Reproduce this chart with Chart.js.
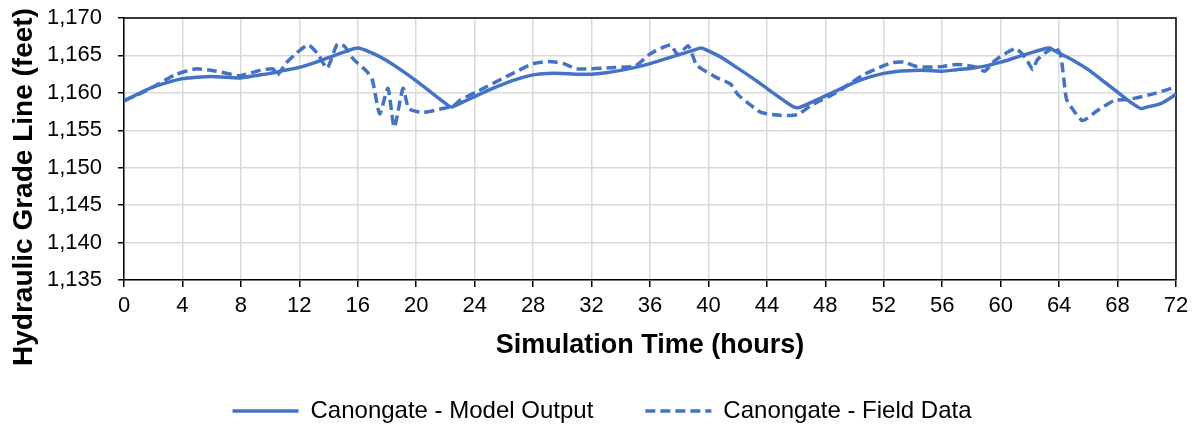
<!DOCTYPE html>
<html>
<head>
<meta charset="utf-8">
<title>Canongate HGL</title>
<script src="https://cdn.jsdelivr.net/npm/chart.js@4.4.1/dist/chart.umd.min.js"></script>
<style>
  html, body { margin: 0; padding: 0; background: #ffffff; }
  #wrap { width: 1198px; height: 428px; position: relative; }
</style>
</head>
<body>
<div id="wrap"><canvas id="hgl" width="1198" height="428"></canvas></div>
<script>
// Simulation hours and hydraulic grade line (feet) – model output
const modelHours = [0,1,2,3,4,5,6,7,8,9,10,11,12,13,14,15,16,17,18,19,20,21,22,22.4,23,24,25,26,27,28,29,30,31,32,33,34,35,36,37,38,39,39.5,40,41,42,43,44,45,46,47,48,49,50,51,52,53,54,55,56,57,58,59,60,61,62,63,63.3,64,65,66,67,68,69,69.6,70,71,72];
const modelHGL = [1158.9,1159.9,1160.8,1161.4,1161.9,1162.1,1162.2,1162.1,1162.0,1162.3,1162.6,1163.0,1163.4,1164.0,1164.7,1165.4,1166.0,1165.3,1164.3,1163.0,1161.6,1160.1,1158.6,1158.1,1158.6,1159.5,1160.4,1161.2,1161.9,1162.4,1162.6,1162.6,1162.5,1162.5,1162.7,1163.0,1163.4,1163.9,1164.5,1165.1,1165.7,1166.0,1165.6,1164.6,1163.3,1162.0,1160.6,1159.2,1158.0,1158.7,1159.6,1160.5,1161.4,1162.1,1162.6,1162.9,1163.0,1163.0,1162.9,1163.1,1163.3,1163.6,1164.1,1164.7,1165.3,1165.9,1166.0,1165.3,1164.3,1163.1,1161.6,1160.1,1158.6,1157.9,1158.1,1158.6,1159.8];

// Field measurements (logged at irregular times)
const fieldHours = [0,1,2,3.5,4.9,6.3,7.9,9.3,10.2,10.5,11.1,11.8,12.6,13.3,13.9,14.6,15.1,15.7,16.6,17.0,17.5,18.06,18.5,19.1,19.5,20.5,21.8,22.5,23.0,24.1,26.2,28.0,29.1,30.1,31.0,33.6,35.0,36.0,37.4,37.9,38.6,38.9,39.2,40.6,41.5,42.0,42.6,43.6,44.9,46.1,47.0,48.8,50.6,52.5,53.4,54.3,55.9,57.0,58.2,58.9,59.6,61.0,61.7,62.2,62.5,63.1,63.7,64.1,64.5,64.9,65.6,66.6,67.8,68.7,70.5,72];
const fieldHGL = [1159.0,1159.8,1160.8,1162.4,1163.2,1162.9,1162.3,1163.0,1163.2,1162.4,1164.0,1165.3,1166.4,1165.1,1163.3,1166.5,1166.2,1164.5,1162.9,1161.7,1157.2,1160.6,1155.4,1160.6,1157.9,1157.4,1157.9,1158.2,1159.0,1160.1,1162.2,1163.9,1164.2,1163.9,1163.2,1163.4,1163.6,1165.2,1166.4,1165.1,1166.3,1165.1,1163.7,1162.0,1161.2,1159.8,1158.8,1157.4,1157.0,1157.1,1158.3,1160.1,1162.4,1164.0,1164.1,1163.5,1163.5,1163.8,1163.5,1162.9,1164.3,1165.9,1164.7,1163.1,1164.4,1165.4,1166.1,1165.1,1159.2,1157.9,1156.3,1157.6,1159.0,1159.1,1159.9,1160.8];

// Axis tick values
const hourTicks = [0,4,8,12,16,20,24,28,32,36,40,44,48,52,56,60,64,68,72];
const hglTicks = [1135,1140,1145,1150,1155,1160,1165,1170];

const seriesNames = ['Canongate - Model Output', 'Canongate - Field Data'];
const yTitle = 'Hydraulic Grade Line (feet)';
const xTitle = 'Simulation Time (hours)';

const BLUE = '#4472C4';
const FONT = "'Liberation Sans', Arial, sans-serif";

const toPoints = (xs, ys) => xs.map((x, i) => ({ x: x, y: ys[i] }));

// Frames the plot area and writes the vertical axis title
const framePlugin = {
  id: 'frame',
  beforeDatasetsDraw(chart) {
    const { ctx, chartArea: a } = chart;
    ctx.save();
    ctx.strokeStyle = '#000000';
    ctx.lineWidth = 1.5;
    ctx.beginPath();
    ctx.moveTo(a.left, a.top);
    ctx.lineTo(a.right, a.top);
    ctx.lineTo(a.right, a.bottom);
    ctx.stroke();
    ctx.restore();
  },
  afterDraw(chart) {
    const { ctx } = chart;
    ctx.save();
    ctx.translate(24, 187);
    ctx.rotate(-Math.PI / 2);
    ctx.font = 'bold 28px ' + FONT;
    ctx.fillStyle = '#000000';
    ctx.textAlign = 'center';
    ctx.textBaseline = 'middle';
    ctx.fillText(yTitle, 0, 0);
    ctx.restore();
  }
};

new Chart(document.getElementById('hgl'), {
  type: 'line',
  data: {
    datasets: [
      {
        label: seriesNames[0],
        data: toPoints(modelHours, modelHGL),
        borderColor: BLUE,
        backgroundColor: BLUE,
        borderWidth: 3.5,
        pointRadius: 0,
        tension: 0.25,
        fill: false
      },
      {
        label: seriesNames[1],
        data: toPoints(fieldHours, fieldHGL),
        borderColor: BLUE,
        backgroundColor: BLUE,
        borderWidth: 3.5,
        borderDash: [10, 5],
        pointRadius: 0,
        tension: 0.2,
        fill: false
      }
    ]
  },
  options: {
    responsive: false,
    animation: false,
    devicePixelRatio: 1,
    layout: { padding: { top: 18, right: 22, left: 28, bottom: -5 } },
    plugins: {
      tooltip: { enabled: false },
      legend: {
        position: 'bottom',
        align: 'center',
        labels: {
          usePointStyle: true,
          pointStyleWidth: 66,
          padding: 52,
          color: '#000000',
          font: { family: FONT, size: 24 },
          generateLabels(chart) {
            return chart.data.datasets.map((ds, i) => ({
              text: ds.label,
              datasetIndex: i,
              fillStyle: ds.borderColor,
              strokeStyle: ds.borderColor,
              lineWidth: ds.borderWidth,
              lineDash: ds.borderDash || [],
              lineCap: 'butt',
              pointStyle: 'line',
              hidden: false,
              fontColor: '#000000'
            }));
          }
        }
      }
    },
    scales: {
      x: {
        type: 'linear',
        min: 0,
        max: 72,
        afterBuildTicks(scale) { scale.ticks = hourTicks.map(v => ({ value: v })); },
        afterFit(scale) { scale.height = 67; scale.paddingLeft = 0; scale.paddingRight = 0; },
        ticks: {
          color: '#000000',
          font: { family: FONT, size: 22 },
          padding: 6,
          maxRotation: 0,
          autoSkip: false
        },
        grid: {
          color: '#D9D9D9',
          lineWidth: 1.5,
          tickColor: '#000000',
          tickLength: 7,
          tickWidth: 1.5
        },
        border: { color: '#000000', width: 1.5 },
        title: {
          display: true,
          text: xTitle,
          color: '#000000',
          font: { family: FONT, size: 27, weight: 'bold' },
          padding: { top: 0, bottom: -15 }
        }
      },
      y: {
        type: 'linear',
        min: 1135,
        max: 1170,
        afterBuildTicks(scale) { scale.ticks = hglTicks.map(v => ({ value: v })); },
        afterFit(scale) { scale.width = 96; scale.paddingTop = 0; scale.paddingBottom = 0; },
        ticks: {
          color: '#000000',
          font: { family: FONT, size: 22 },
          padding: 16,
          callback: (v) => v.toLocaleString('en-US')
        },
        grid: {
          color: '#D9D9D9',
          lineWidth: 1.5,
          tickColor: '#000000',
          tickLength: 6,
          tickWidth: 1.5
        },
        border: { color: '#000000', width: 1.5 }
      }
    }
  },
  plugins: [framePlugin]
});
</script>
</body>
</html>
